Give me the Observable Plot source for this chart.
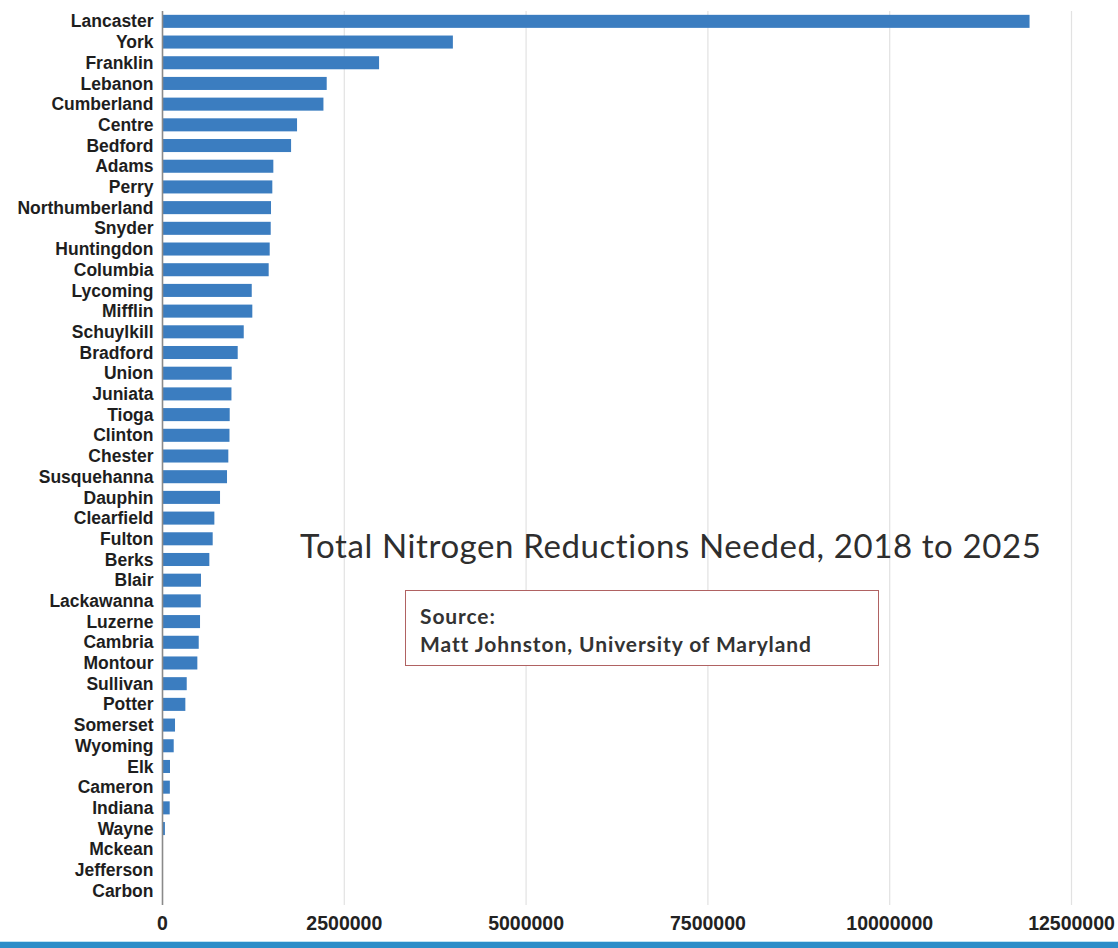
<!DOCTYPE html>
<html>
<head>
<meta charset="utf-8">
<script src="https://cdn.jsdelivr.net/npm/d3@7"></script>
<script src="https://cdn.jsdelivr.net/npm/@observablehq/plot@0.6"></script>
<style>
  html, body { margin: 0; padding: 0; background: #fff; }
  #wrap { position: relative; width: 1118px; height: 948px; overflow: hidden; }
  #chart svg { display: block; }
  #title { position: absolute; left: 300px; top: 525px; font-family: Lato, "Open Sans", sans-serif; font-size: 33px; color: #2e2e2e; white-space: nowrap; letter-spacing: 0.6px; }
  #source { position: absolute; left: 405px; top: 590px; width: 474px; height: 76px; border: 1.5px solid #b06262; box-sizing: border-box; font-family: Lato, "Open Sans", sans-serif; font-weight: 700; font-size: 21px; letter-spacing: 0.9px; color: #333; padding: 11px 0 0 14px; line-height: 28px; background: #fff; }
  #bottombar { position: absolute; left: 0; top: 941px; width: 1118px; height: 7px; background: #2b8dc8; border-top: 1px solid #bfe3f3; }
</style>
</head>
<body>
<div id="wrap">
  <div id="chart"></div>
  <div id="title">Total Nitrogen Reductions Needed, 2018 to 2025</div>
  <div id="source">Source:<br>Matt Johnston, University of Maryland</div>
  <div id="bottombar"></div>
</div>
<script>
const counties = ["Lancaster","York","Franklin","Lebanon","Cumberland","Centre","Bedford","Adams","Perry","Northumberland","Snyder","Huntingdon","Columbia","Lycoming","Mifflin","Schuylkill","Bradford","Union","Juniata","Tioga","Clinton","Chester","Susquehanna","Dauphin","Clearfield","Fulton","Berks","Blair","Lackawanna","Luzerne","Cambria","Montour","Sullivan","Potter","Somerset","Wyoming","Elk","Cameron","Indiana","Wayne","Mckean","Jefferson","Carbon"];
const reductions = [11930000,4000000,2985000,2265000,2220000,1857000,1775000,1531000,1517000,1499000,1495000,1481000,1467000,1234000,1242000,1124000,1041000,958000,955000,931000,928000,912000,894000,798000,720000,697000,651000,536000,533000,523000,505000,486000,340000,321000,179000,161000,110000,108000,106000,40000,0,0,0];
const xTicks = [0,2500000,5000000,7500000,10000000,12500000];

const data = counties.map((c, i) => ({county: c, value: reductions[i]}));

const chart = Plot.plot({
  width: 1118,
  height: 940,
  marginLeft: 162,
  marginRight: 47,
  marginTop: 11,
  marginBottom: 39,
  style: {fontFamily: "'Liberation Sans', Arial, sans-serif", fontWeight: "bold", fontSize: "17.5px", color: "#222", background: "#fff"},
  x: {domain: [0, 12500000], ticks: xTicks, tickFormat: d => String(d), label: null},
  y: {domain: counties, padding: 0.37, paddingOuter: 0.185, round: false, label: null},
  marks: [
    Plot.ruleX(xTicks.slice(1), {stroke: "#e2e2e2", strokeWidth: 1.2, insetBottom: -4}),
    Plot.barX(data, {x: "value", y: "county", fill: "#3b7dc0"}),
    Plot.ruleX([0], {stroke: "#8a8a8a", strokeWidth: 1.6, insetBottom: -4}),
    Plot.axisX({ticks: xTicks, tickFormat: d => String(d), tickSize: 0, tickPadding: 15, fontSize: 19.5, fill: "#222", fontWeight: "bold", label: null}),
    Plot.axisY({tickSize: 0, tickPadding: 9, fontSize: 17.5, fill: "#1e1e1e", fontWeight: "bold", label: null})
  ]
});
document.getElementById("chart").appendChild(chart);
</script>
</body>
</html>
